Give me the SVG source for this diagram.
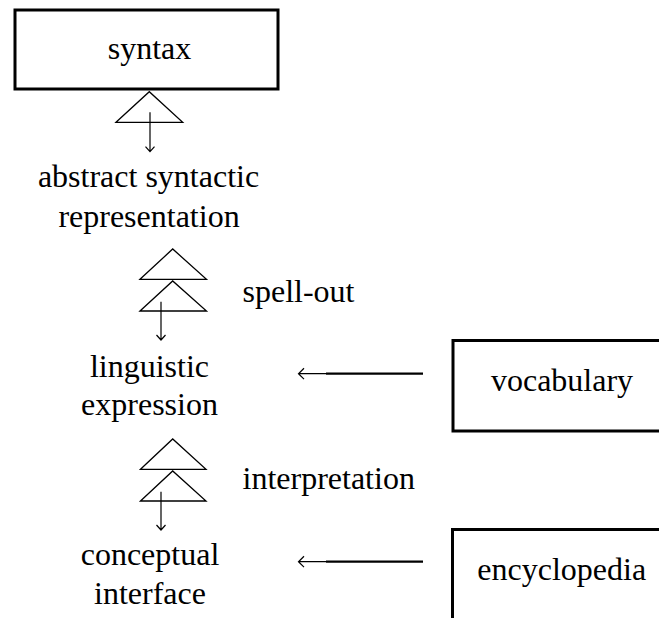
<svg xmlns="http://www.w3.org/2000/svg" width="659" height="618" viewBox="0 0 659 618" font-family="'Liberation Serif', Tinos, 'Times New Roman', 'DejaVu Serif', serif" font-size="32">
<style>
text{font-family:'Liberation Serif',Tinos,'Times New Roman','DejaVu Serif',serif;font-size:32px;fill:#000;text-anchor:middle}
.lbl{text-anchor:start}
.box{fill:none;stroke:#000;stroke-width:3}
.tri{fill:none;stroke:#000;stroke-width:1.3;stroke-linejoin:miter}
.thin{fill:none;stroke:#000;stroke-width:1.2}
.thick{fill:none;stroke:#000;stroke-width:2.2}
</style>
<rect width="659" height="618" fill="#fff"/>
<g id="syntax">
<rect class="box" x="15" y="10" width="263" height="79"/>
<text x="149.5" y="59">syntax</text>
</g>
<g id="abstract-syntactic-representation">
<text x="148.5" y="187">abstract syntactic</text>
<text x="149" y="226.5">representation</text>
</g>
<g id="linguistic-expression">
<text x="149.5" y="377">linguistic</text>
<text x="149.5" y="415">expression</text>
</g>
<g id="conceptual-interface">
<text x="150" y="565">conceptual</text>
<text x="150" y="604">interface</text>
</g>
<g id="vocabulary">
<rect class="box" x="453" y="340.5" width="230" height="90.5"/>
<text x="562" y="391">vocabulary</text>
</g>
<g id="encyclopedia">
<rect class="box" x="452.5" y="529.5" width="230" height="120"/>
<text x="561.7" y="580">encyclopedia</text>
</g>
<g id="connectors">
<path class="tri" d="M116,122.3 L149.3,91.7 L182.7,122.3 Z"/>
<path class="thin" d="M150,112.3 V151.7 M145.5,146.7 L150,151.7 L154.5,146.7"/>
<path class="tri" d="M140,279.3 L172.7,249 L206.5,279.3 Z"/>
<path class="tri" d="M140,311 L172.7,281 L206.5,311 Z"/>
<path class="thin" d="M161,301.7 V340 M156.5,335 L161,340 L165.5,335"/>
<path class="tri" d="M140.5,469.3 L172.7,439 L206,469.3 Z"/>
<path class="tri" d="M140.5,501 L172.7,471 L206,501 Z"/>
<path class="thin" d="M161,491.7 V530 M156.5,525 L161,530 L165.5,525"/>
<path class="thin" d="M298.5,373.7 H326 M304,368.3 L298.5,373.7 L304,379.1"/>
<path class="thick" d="M326,373.7 H423"/>
<path class="thin" d="M298.5,561.7 H326 M304,556.3 L298.5,561.7 L304,567.1"/>
<path class="thick" d="M326,561.7 H423"/>
<text class="lbl" x="242.5" y="302">spell-out</text>
<text class="lbl" x="242.5" y="489">interpretation</text>
</g>
</svg>
